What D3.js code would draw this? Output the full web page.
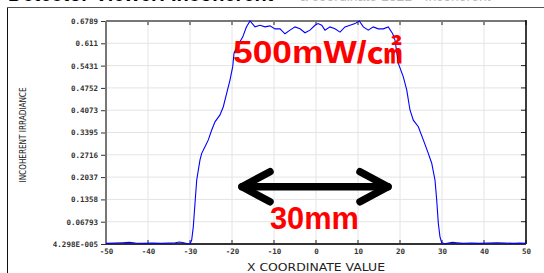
<!DOCTYPE html>
<html>
<head>
<meta charset="utf-8">
<script src="https://cdn.jsdelivr.net/npm/d3@7"></script>
<style>
  body { margin: 0; background: #fff; }
  svg { display: block; }
</style>
</head>
<body>
<svg id="chart" width="544" height="273"></svg>
<script>
// tick values and labels
var xTicks = [-50, -40, -30, -20, -10, 0, 10, 20, 30, 40, 50];
var yTicks = [0.00004298, 0.06793, 0.1358, 0.2037, 0.2716, 0.3395, 0.4073, 0.4752, 0.5431, 0.611, 0.6789];
var yLabels = ["4.298E-005", "0.06793", "0.1358", "0.2037", "0.2716", "0.3395", "0.4073", "0.4752", "0.5431", "0.611", "0.6789"];

// profile
var xCoord = [-50, -48, -46, -44.5, -43, -41, -39, -37, -35, -33.5, -32.5, -31.5, -30.5, -30.0,
  -29.6, -29.21, -28.81, -28.4, -28.02, -27.62, -27.21, -26.43, -25.64, -24.83, -24.05, -22.86,
  -22.07, -21.26, -20.48, -19.83, -19.52, -18.57, -17.45, -16.6, -15.71, -14.52, -13.33, -12.14,
  -10.95, -9.76, -8.57, -7.38, -6.19, -5.0, -3.81, -2.62, -1.43, -0.24, 0.48, 1.36, 2.14, 3.33,
  4.52, 5.71, 6.9, 8.1, 9.29, 10.31, 11.26, 12.45, 13.64, 14.83, 16.02, 17.21, 18.26, 18.81,
  19.6, 20.79, 21.6, 22.38, 23.17, 24.36, 25.55, 26.74, 27.55, 28.33, 28.74, 29.12, 29.52,
  29.93, 30.71, 31.5, 32.5, 33.5, 35, 37, 39, 41, 43, 45, 47, 48.5, 50];
var irradiance = [0.002, 0.003, 0.004, 0.005, 0.003, 0.002, 0.003, 0.002, 0.003, 0.004, 0.006, 0.004, 0.001, 0.0,
  0.012, 0.053, 0.124, 0.195, 0.225, 0.256, 0.276, 0.296, 0.317, 0.347, 0.372, 0.393,
  0.418, 0.459, 0.499, 0.540, 0.581, 0.606, 0.630, 0.660, 0.679, 0.661, 0.666, 0.661,
  0.664, 0.655, 0.655, 0.640, 0.651, 0.661, 0.655, 0.643, 0.651, 0.666, 0.671, 0.666, 0.651, 0.661,
  0.655, 0.645, 0.661, 0.666, 0.671, 0.679, 0.661, 0.651, 0.661, 0.655, 0.655, 0.661, 0.640, 0.621,
  0.550, 0.509, 0.469, 0.408, 0.377, 0.357, 0.317, 0.276, 0.246, 0.195, 0.134, 0.063, 0.022,
  0.004, 0.001, 0.003, 0.005, 0.004, 0.002, 0.003, 0.002, 0.003, 0.004, 0.003, 0.002, 0.003, 0.002];

var margin = {top: 21, right: 18, bottom: 29, left: 106},
    width = 544 - margin.left - margin.right,
    height = 273 - margin.top - margin.bottom;

var svg = d3.select("#chart");

// outer frame of the screenshot
svg.append("line").attr("x1", 7.5).attr("x2", 544).attr("y1", 7.5).attr("y2", 7.5)
  .attr("stroke", "#555").attr("stroke-width", 1);
svg.append("line").attr("x1", 7.5).attr("x2", 7.5).attr("y1", 7.5).attr("y2", 273)
  .attr("stroke", "#111").attr("stroke-width", 1);

// header text, mostly outside the crop
svg.append("text").attr("x", 8).attr("y", 1)
  .style("font-family", "Liberation Sans").style("font-weight", "bold").style("font-size", "20px")
  .attr("fill", "#000").text("Detector Viewer: Incoherent");
svg.append("text").attr("x", 300).attr("y", 1)
  .style("font-family", "Liberation Sans").style("font-size", "14px")
  .attr("fill", "#bbb").text("a coordinate 1321 - Incoherent");

var g = svg.append("g")
  .attr("transform", "translate(" + margin.left + "," + margin.top + ")");

var x = d3.scaleLinear().domain([-50, 50]).range([0, width]);
var y = d3.scaleLinear().domain([yTicks[0], yTicks[yTicks.length - 1]]).range([height, 0]);

// grid
g.append("g").selectAll("line").data(xTicks).enter().append("line")
  .attr("x1", function(d) { return x(d); }).attr("x2", function(d) { return x(d); })
  .attr("y1", 0).attr("y2", height)
  .attr("stroke", "#e4e4e4").attr("stroke-width", 1);
g.append("g").selectAll("line").data(yTicks).enter().append("line")
  .attr("x1", 0).attr("x2", width)
  .attr("y1", function(d) { return y(d); }).attr("y2", function(d) { return y(d); })
  .attr("stroke", "#e4e4e4").attr("stroke-width", 1);

// axes
var yAxis = d3.axisLeft(y).tickValues(yTicks)
  .tickFormat(function(d, i) { return yLabels[i]; })
  .tickSizeInner(5).tickSizeOuter(0).tickPadding(3);
var xAxis = d3.axisBottom(x).tickValues(xTicks)
  .tickFormat(function(d) { return d; })
  .tickSizeInner(0).tickSizeOuter(0).tickPadding(5);

var ya = g.append("g").call(yAxis);
ya.select(".domain").remove();
ya.selectAll("line").attr("stroke", "#333");
ya.selectAll("text")
  .style("font-family", "DejaVu Sans Mono").style("font-weight", "bold")
  .style("font-size", "7.5px").attr("fill", "#333");

var xa = g.append("g").attr("transform", "translate(0," + height + ")").call(xAxis);
xa.select(".domain").remove();
xa.selectAll("text")
  .style("font-family", "DejaVu Sans Mono").style("font-weight", "bold")
  .style("font-size", "7.5px").attr("fill", "#333");

// small inward ticks on all sides
g.append("g").selectAll("line").data(xTicks).enter().append("line")
  .attr("x1", function(d) { return x(d); }).attr("x2", function(d) { return x(d); })
  .attr("y1", 0).attr("y2", 4).attr("stroke", "#222");
g.append("g").selectAll("line").data(xTicks).enter().append("line")
  .attr("x1", function(d) { return x(d); }).attr("x2", function(d) { return x(d); })
  .attr("y1", height - 4).attr("y2", height).attr("stroke", "#222");
g.append("g").selectAll("line").data(yTicks).enter().append("line")
  .attr("x1", width - 5).attr("x2", width)
  .attr("y1", function(d) { return y(d); }).attr("y2", function(d) { return y(d); })
  .attr("stroke", "#222");

// the frame
g.append("line").attr("x1", 0).attr("x2", width).attr("y1", 0).attr("y2", 0)
  .attr("stroke", "#777").attr("stroke-width", 2);
g.append("line").attr("x1", 0).attr("x2", 0).attr("y1", 0).attr("y2", height)
  .attr("stroke", "#777").attr("stroke-width", 2);
g.append("line").attr("x1", width).attr("x2", width).attr("y1", -1).attr("y2", height)
  .attr("stroke", "#000").attr("stroke-width", 1.5);
g.append("line").attr("x1", 0).attr("x2", width).attr("y1", height).attr("y2", height)
  .attr("stroke", "#333").attr("stroke-width", 2);

// the curve
var points = xCoord.map(function(d, i) { return {x: d, v: irradiance[i]}; });
var line = d3.line()
  .x(function(d) { return x(d.x); })
  .y(function(d) { return y(d.v); });
g.append("path").datum(points)
  .attr("d", line)
  .attr("fill", "none")
  .attr("stroke", "#0000ff")
  .attr("stroke-width", 1.1);

// axis titles
svg.append("text")
  .attr("x", margin.left + width / 2).attr("y", 271)
  .attr("text-anchor", "middle")
  .attr("textLength", 138).attr("lengthAdjust", "spacingAndGlyphs")
  .style("font-family", "DejaVu Sans").style("font-size", "11px")
  .attr("fill", "#222").text("X COORDINATE VALUE");

svg.append("text")
  .attr("transform", "translate(26,135) rotate(-90)")
  .attr("text-anchor", "middle")
  .attr("textLength", 95).attr("lengthAdjust", "spacingAndGlyphs")
  .style("font-family", "DejaVu Sans Condensed").style("font-size", "9.5px")
  .attr("fill", "#222").text("INCOHERENT IRRADIANCE");

// annotations
g.append("text")
  .attr("x", x(-19.76)).attr("y", y(0.551))
  .attr("textLength", 169).attr("lengthAdjust", "spacingAndGlyphs")
  .style("font-family", "Liberation Sans, Noto Sans CJK KR").style("font-weight", "bold")
  .style("font-size", "32px").attr("fill", "#ff0000")
  .text("500mW/㎠");

g.append("text")
  .attr("x", x(-10.95)).attr("y", y(0.0457))
  .attr("textLength", 89).attr("lengthAdjust", "spacingAndGlyphs")
  .style("font-family", "Liberation Sans").style("font-weight", "bold")
  .style("font-size", "31px").attr("fill", "#ff0000")
  .text("30mm");

var arrowL = -17.62, arrowR = 17.14, arrowY = 0.1744;
var arrow = g.append("g").attr("stroke", "#000").attr("stroke-width", 7.5)
  .attr("fill", "none").attr("stroke-linecap", "round").attr("stroke-linejoin", "round");
arrow.append("line")
  .attr("x1", x(arrowL)).attr("x2", x(arrowR))
  .attr("y1", y(arrowY)).attr("y2", y(arrowY));
arrow.append("path")
  .attr("d", "M" + x(-10.95) + "," + y(0.2201) + "L" + x(arrowL) + "," + y(arrowY) + "L" + x(-10.95) + "," + y(0.1287));
arrow.append("path")
  .attr("d", "M" + x(10.48) + "," + y(0.2201) + "L" + x(arrowR) + "," + y(arrowY) + "L" + x(10.48) + "," + y(0.1287));
</script>
</body>
</html>
